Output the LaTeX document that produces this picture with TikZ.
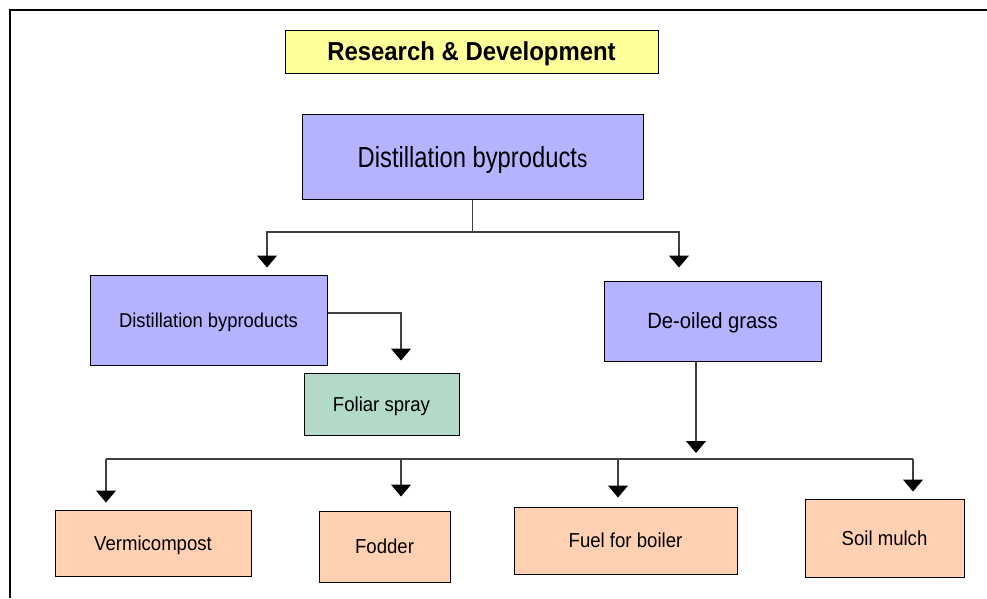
\documentclass[tikz,border=0pt]{standalone}
\usepackage{fontspec}
\setmainfont{Liberation Sans}[FakeStretch=0.92]
\newfontfamily\condfont{Liberation Sans}[FakeStretch=0.82]
\usetikzlibrary{arrows.meta}
\definecolor{rdyellow}{RGB}{255,255,153}
\definecolor{lavender}{RGB}{179,179,255}
\definecolor{sagegreen}{RGB}{179,217,201}
\definecolor{peach}{RGB}{255,209,178}
\tikzset{
  box/.style={draw=black, line width=1pt, inner sep=0pt, text depth=0pt, align=center},
  rdbox/.style={box, fill=rdyellow, minimum width=373pt, minimum height=43pt, font=\fontsize{26}{28}\selectfont\bfseries},
  srcbox/.style={box, fill=lavender, minimum width=341pt, minimum height=85pt, font=\condfont\fontsize{29}{31}\selectfont},
  midbox/.style={box, fill=lavender, font=\fontsize{20}{22}\selectfont},
  sprbox/.style={box, fill=sagegreen, font=\fontsize{20.2}{22}\selectfont},
  usebox/.style={box, fill=peach, font=\fontsize{20.2}{22}\selectfont},
  link/.style={draw=black!75, line width=1.1pt},
}
\begin{document}
\begin{tikzpicture}[x=1pt, y=-1pt, >={Triangle[width=20pt,length=12pt,color=black]}, line join=miter]
  \def\busy{459}
  \useasboundingbox (0,0) rectangle (987,598);
  % frame
  \draw[line width=1.2pt] (10,598) -- (10,10) -- (987,10);
  \node[rdbox] (rd) at (471.5,51.5) {Research \& Development};
  \node[srcbox] (src) at (472.5,156.5) {Distillation byproduct{\fontsize{25}{27}\selectfont s}};
  \node[midbox, minimum width=237pt, minimum height=90pt] (dist) at (208.5,320) {Distillation byproducts};
  \node[midbox, minimum width=217pt, minimum height=80pt, font=\fontsize{22}{24}\selectfont] (grass) at (712.5,321) {De-oiled grass};
  \node[sprbox, minimum width=155pt, minimum height=62pt] (foliar) at (381.5,404) {Foliar spray};
  \node[usebox, minimum width=196pt, minimum height=66pt] (vermi) at (153,543) {Vermicompost};
  \node[usebox, minimum width=131pt, minimum height=71pt] (fodder) at (384.5,546.5) {Fodder};
  \node[usebox, minimum width=223pt, minimum height=67pt] (fuel) at (625.5,540.5) {Fuel for boiler};
  \node[usebox, minimum width=159pt, minimum height=78pt] (mulch) at (884.5,538) {Soil mulch};
  % first split
  \coordinate (s1) at (267,232);
  \coordinate (s2) at (679,232);
  \draw[link] (src.south) -- (src.south |- s1);
  \draw[link, <->, shorten <=7pt, shorten >=13pt] (dist.north -| s1) -- (s1) -- (s2) -- (grass.north -| s2);
  \coordinate (f1) at (401,313);
  \draw[link, ->, shorten >=12pt] ([yshift=7pt]dist.east) -| (foliar.north -| f1);
  % uses of the grass
  \coordinate (g1) at (696,\busy);
  \draw[link, ->, shorten >=6pt] (grass.south -| g1) -- (g1);
  \draw[link] (106,\busy) -- (913,\busy);
  \foreach \n/\x/\s in {vermi/106/7, fodder/401/14, fuel/618/9, mulch/913/7}
    \draw[link, ->, shorten >=\s pt] (\x,\busy) -- (\n.north -| \x,0);
\end{tikzpicture}
\end{document}
